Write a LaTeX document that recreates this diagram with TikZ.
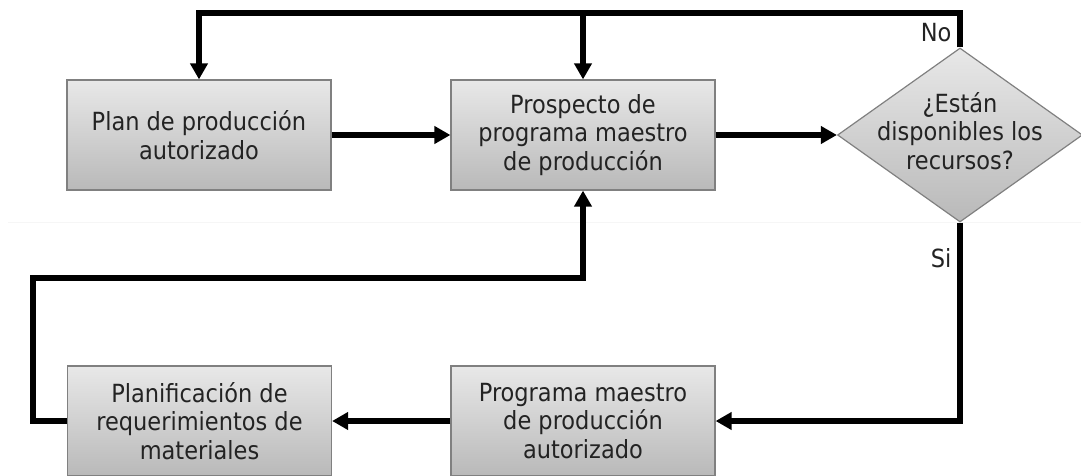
\documentclass[tikz,border=0pt]{standalone}
\usepackage{fontspec}
\setmainfont{DejaVu Sans Condensed}
\usetikzlibrary{arrows.meta,shapes.geometric}
\definecolor{bordergray}{RGB}{128,128,128}
\definecolor{filltop}{RGB}{232,232,232}
\definecolor{fillbot}{RGB}{185,185,185}
\definecolor{txt}{RGB}{35,35,35}
\begin{document}
\begin{tikzpicture}[x=1pt,y=-1pt,
  stepbox/.style={draw=bordergray, line width=1.2pt, top color=filltop, bottom color=fillbot,
    minimum width=264pt, minimum height=110pt, inner sep=0pt, align=center, text=txt,
    font=\fontsize{25}{28.5}\selectfont},
  decision/.style={diamond, draw=bordergray, line width=1.2pt, top color=filltop, bottom color=fillbot,
    minimum width=245pt, minimum height=174pt, inner sep=0pt},
  lbl/.style={text=txt, align=center, font=\fontsize{25}{28.5}\selectfont},
  conn/.style={line width=5.5pt, draw=black},
  arr/.style={conn, -{Triangle[length=16pt,width=17pt]}}
]
\useasboundingbox (0,0) rectangle (1081,476);
\draw[draw=gray!7, line width=1pt] (8,222.7) -- (1081,222.7);

\node[stepbox] (b1) at (199,135) {Plan de producción\\autorizado};
\node[stepbox] (b2) at (583,135) {Prospecto de\\programa maestro\\de producción};
\node[decision] (d) at (960,135) {};
\node[lbl] (dt) at (960,131) {¿Están\\disponibles los\\recursos?};
\node[stepbox] (b3) at (199.5,421) {Planificación de\\requerimientos de\\materiales};
\node[stepbox] (b4) at (583,421) {Programa maestro\\de producción\\autorizado};

\coordinate (tl) at (199,13);
\coordinate (lc) at (33,278);

\draw[arr] (b1.east) -- (b2.west);
\draw[arr] (b2.east) -- (d.west);
\draw[arr, line join=miter] (d.north) -- (d.north |- tl) -- (tl) -- (b1.north);
\draw[arr] (b2.north |- tl) -- (b2.north);
\draw[arr, line join=miter] (d.south) |- (b4.east);
\draw[arr] (b4.west) -- (b3.east);
\draw[arr, line join=miter] (b3.west) -| (lc) -| (b2.south);

\node[lbl, anchor=east] (no) at (955,33) {No};
\node[lbl, anchor=east] (si) at (955,258) {Si};
\end{tikzpicture}
\end{document}
